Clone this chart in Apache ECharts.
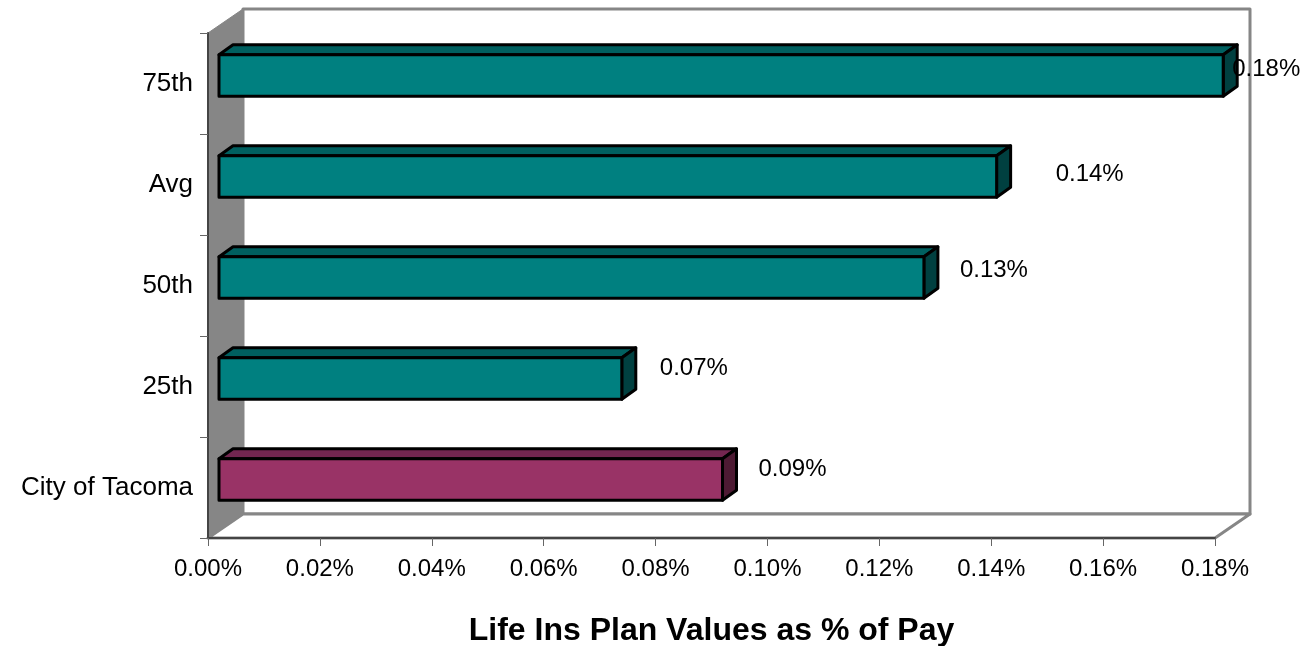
<!DOCTYPE html>
<html>
<head>
<meta charset="utf-8">
<style>
    html, body { margin: 0; padding: 0; background: #fff; }
    #main { width: 1307px; height: 646px; }
</style>
<script src="https://cdn.jsdelivr.net/npm/echarts@6/dist/echarts.min.js"></script>
</head>
<body>
<div id="main"></div>
<script>
    // bottom to top, same as the picture
    var categories = ['City of Tacoma', '25th', '50th', 'Avg', '75th'];
    var planValues = [0.09, 0.072, 0.126, 0.139, 0.1795];
    var valueLabels = ['0.09%', '0.07%', '0.13%', '0.14%', '0.18%'];

    // the fake 3d depth
    var wallDx = 35, wallDy = 24;
    var barInsetX = 11, barDx = 14, barDy = 10;
    // labels sit a bit uneven in the original
    var labelNudge = [[22, -10], [24, -10], [22, -7], [45, -2], [-5, -6]];

    var frontColors = ['#993366', '#008080'];
    var topColors = ['#732650', '#006060'];
    var sideColors = ['#4d1a33', '#004040'];

    var font = '"Liberation Sans", Arial, sans-serif';

    function poly(points, fill, stroke, width) {
        return {
            type: 'polygon',
            shape: { points: points },
            style: { fill: fill, stroke: stroke, lineWidth: width, lineJoin: 'round' }
        };
    }

    function renderWalls(params) {
        if (params.dataIndex > 0) {
            return null;
        }
        var c = params.coordSys;
        var l = c.x, t = c.y, r = c.x + c.width, b = c.y + c.height;
        var gray = '#868686';
        return {
            type: 'group',
            children: [
                // back wall
                poly([[l + wallDx, t - wallDy], [r + wallDx, t - wallDy], [r + wallDx, b - wallDy], [l + wallDx, b - wallDy]], '#fff', gray, 3),
                // floor
                poly([[l, b], [l + wallDx, b - wallDy], [r + wallDx, b - wallDy], [r, b]], '#fff', gray, 3),
                // left wall
                poly([[l, t], [l + wallDx, t - wallDy], [l + wallDx, b - wallDy], [l, b]], gray, gray, 1)
            ]
        };
    }

    function renderBar(params, api) {
        var i = params.dataIndex;
        var colorIdx = i === 0 ? 0 : 1;
        var zero = api.coord([0, i]);
        var end = api.coord([api.value(0), i]);
        var h = api.size([0, 1])[1] * 0.41;
        var x0 = zero[0] + barInsetX;
        var x1 = end[0] + barInsetX;
        var yt = end[1] - 8 - h / 2;
        var yb = yt + h;
        var nudge = labelNudge[i];
        return {
            type: 'group',
            children: [
                poly([[x0, yt], [x0 + barDx, yt - barDy], [x1 + barDx, yt - barDy], [x1, yt]], topColors[colorIdx], '#000', 3),
                poly([[x1, yt], [x1 + barDx, yt - barDy], [x1 + barDx, yb - barDy], [x1, yb]], sideColors[colorIdx], '#000', 3),
                poly([[x0, yt], [x1, yt], [x1, yb], [x0, yb]], frontColors[colorIdx], '#000', 3),
                {
                    type: 'text',
                    z2: 10,
                    style: {
                        x: x1 + barDx + nudge[0],
                        y: (yt + yb) / 2 + nudge[1],
                        text: valueLabels[i],
                        fill: '#000',
                        font: '24px ' + font,
                        textAlign: 'left',
                        textVerticalAlign: 'middle'
                    }
                }
            ]
        };
    }

    var myChart = echarts.init(document.getElementById('main'), null, { renderer: 'canvas' });

    myChart.setOption({
        animation: false,
        backgroundColor: '#fff',
        grid: { left: 208, top: 33, width: 1007, height: 505, containLabel: false, outerBoundsMode: 'none' },
        xAxis: {
            type: 'value',
            min: 0,
            max: 0.18,
            interval: 0.02,
            z: 3,
            name: 'Life Ins Plan Values as % of Pay',
            nameLocation: 'middle',
            nameGap: 77,
            nameTextStyle: { fontFamily: font, fontSize: 32, fontWeight: 'bold', color: '#000' },
            axisLine: { show: true, lineStyle: { color: '#444', width: 2 } },
            axisTick: { show: true, length: 8, lineStyle: { color: '#666', width: 1 } },
            splitLine: { show: false },
            axisLabel: {
                fontFamily: font,
                fontSize: 24,
                color: '#000',
                margin: 19,
                hideOverlap: false,
                formatter: function (v) {
                    return v.toFixed(2) + '%';
                }
            }
        },
        yAxis: {
            type: 'category',
            data: categories,
            z: 3,
            axisLine: { show: true, lineStyle: { color: '#444', width: 2 } },
            axisTick: { show: true, length: 8, lineStyle: { color: '#666', width: 1 } },
            axisLabel: { fontFamily: font, fontSize: 26, color: '#000', margin: 15 }
        },
        series: [
            {
                type: 'custom',
                z: 1,
                silent: true,
                renderItem: renderWalls,
                data: planValues.map(function (v, i) { return [v, i]; })
            },
            {
                type: 'custom',
                z: 4,
                renderItem: renderBar,
                encode: { x: 0, y: 1 },
                data: planValues.map(function (v, i) { return [v, i]; })
            }
        ]
    });
</script>
</body>
</html>
